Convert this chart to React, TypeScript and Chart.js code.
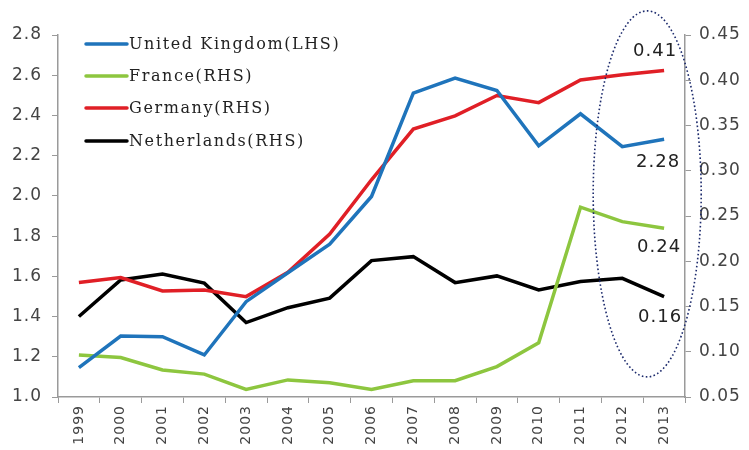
import React, { useEffect, useRef } from "react";
import { Chart, registerables } from "chart.js";

Chart.register(...registerables);

const years = ["1999","2000","2001","2002","2003","2004","2005","2006","2007","2008","2009","2010","2011","2012","2013"];
const ukLHS = [1.146, 1.303, 1.30, 1.209, 1.474, 1.618, 1.76, 1.997, 2.511, 2.586, 2.524, 2.249, 2.408, 2.245, 2.282];
const franceRHS = [0.0964, 0.0936, 0.0798, 0.0753, 0.0584, 0.0689, 0.0658, 0.0584, 0.068, 0.068, 0.0836, 0.110, 0.2598, 0.2438, 0.2364];
const germanyRHS = [0.1764, 0.182, 0.1671, 0.1682, 0.1609, 0.1878, 0.230, 0.290, 0.346, 0.3607, 0.3831, 0.3753, 0.4004, 0.406, 0.4107];
const netherlandsRHS = [0.1389, 0.1793, 0.186, 0.1758, 0.1322, 0.1487, 0.1593, 0.2007, 0.2051, 0.1764, 0.1838, 0.1682, 0.1776, 0.1811, 0.1609];
const seriesNames = ["United Kingdom(LHS)", "France(RHS)", "Germany(RHS)", "Netherlands(RHS)"];
const seriesColors = ["#1f74bb", "#8dc63f", "#e01f26", "#000000"];
const endLabels = ["2.28", "0.24", "0.41", "0.16"];

const TICK_COLOR = "#444444";
const AXIS_COLOR = "#9a9a9a";

const decorPlugin = {
  id: "decor",
  beforeUpdate(chart: any) {
    (chart.ctx as any).letterSpacing = "1px";
  },
  beforeDraw(chart: any) {
    (chart.ctx as any).letterSpacing = "1px";
  },
  afterDatasetsDraw(chart: any) {
    const ctx = chart.ctx;
    const xs = chart.scales.x;
    const yl = chart.scales.y;
    ctx.save();
    // legend
    (ctx as any).letterSpacing = "1.6px";
    ctx.font = "16px 'DejaVu Serif'";
    ctx.textBaseline = "middle";
    ctx.textAlign = "left";
    const legendY = [44, 76, 108, 141];
    seriesNames.forEach((name, i) => {
      ctx.strokeStyle = seriesColors[i];
      ctx.lineWidth = 3.5;
      ctx.lineCap = "round";
      ctx.beginPath();
      ctx.moveTo(86, legendY[i]);
      ctx.lineTo(127, legendY[i]);
      ctx.stroke();
      ctx.fillStyle = "#222";
      ctx.fillText(name, 129, legendY[i] + 1);
    });
    // end labels
    (ctx as any).letterSpacing = "1px";
    const last = years.length - 1;
    const metas = [0, 1, 2, 3].map((i) => chart.getDatasetMeta(i));
    const offsets = [23, 19, -19, 21];
    const dx = [-6, -5, -9, -4];
    ctx.font = "18px 'DejaVu Sans'";
    ctx.textAlign = "center";
    ctx.fillStyle = "#222";
    metas.forEach((m, i) => {
      const pt = m.data[last];
      ctx.fillText(endLabels[i], pt.x + dx[i], pt.y + offsets[i]);
    });
    // dotted ellipse
    const cx = (xs.getPixelForValue(13) + xs.getPixelForValue(14)) / 2 + 4;
    const top = yl.getPixelForValue(2.92);
    const bottom = yl.getPixelForValue(1.1);
    const cy = (top + bottom) / 2;
    const ry = (bottom - top) / 2;
    ctx.strokeStyle = "#1c2a6c";
    ctx.lineWidth = 1.6;
    ctx.lineCap = "butt";
    ctx.setLineDash([1.6, 2.4]);
    ctx.beginPath();
    ctx.ellipse(cx, cy, 54, ry, 0, 0, Math.PI * 2);
    ctx.stroke();
    ctx.restore();
  },
};

export default function App() {
  const ref = useRef<HTMLCanvasElement>(null);
  useEffect(() => {
    document.body.style.margin = "0";
    const mk = (label: string, data: number[], color: string, axis: string) => ({
      label,
      data,
      borderColor: color,
      backgroundColor: color,
      borderWidth: 3.5,
      pointRadius: 0,
      tension: 0,
      yAxisID: axis,
    });
    const chart = new Chart(ref.current!, {
      type: "line",
      data: {
        labels: years,
        datasets: [
          mk(seriesNames[0], ukLHS, seriesColors[0], "y"),
          mk(seriesNames[1], franceRHS, seriesColors[1], "y1"),
          mk(seriesNames[2], germanyRHS, seriesColors[2], "y1"),
          mk(seriesNames[3], netherlandsRHS, seriesColors[3], "y1"),
        ],
      },
      options: {
        responsive: false,
        animation: false,
        layout: { padding: { top: 35, left: 0, right: 0, bottom: 0 } },
        plugins: { legend: { display: false }, tooltip: { enabled: false } },
        scales: {
          x: {
            type: "category",
            offset: true,
            border: { color: AXIS_COLOR, width: 1.5 },
            grid: { display: true, drawOnChartArea: false, drawTicks: true, tickLength: 6, offset: true, color: AXIS_COLOR },
            ticks: { minRotation: 90, maxRotation: 90, color: TICK_COLOR, font: { family: "DejaVu Sans", size: 14 }, padding: 2 },
            afterFit: (s: any) => { s.height = 53; },
          },
          y: {
            position: "left",
            min: 1.0,
            max: 2.8,
            border: { color: AXIS_COLOR, width: 1.5 },
            grid: { display: true, drawOnChartArea: false, drawTicks: true, tickLength: 6, color: AXIS_COLOR },
            ticks: { stepSize: 0.2, color: TICK_COLOR, font: { family: "DejaVu Sans", size: 17 }, padding: 10, callback: (v: any) => Number(v).toFixed(1) },
            afterFit: (s: any) => { s.width = 58; },
          },
          y1: {
            position: "right",
            min: 0.05,
            max: 0.45,
            border: { color: AXIS_COLOR, width: 1.5 },
            grid: { display: true, drawOnChartArea: false, drawTicks: true, tickLength: 6, color: AXIS_COLOR },
            ticks: { stepSize: 0.05, color: TICK_COLOR, font: { family: "DejaVu Sans", size: 17 }, padding: 8, callback: (v: any) => Number(v).toFixed(2) },
            afterFit: (s: any) => { s.width = 64; },
          },
        },
      },
      plugins: [decorPlugin],
    });
    return () => chart.destroy();
  }, []);
  return (
    <canvas ref={ref} width={749} height={450} style={{ position: "absolute", left: 0, top: 0, background: "#fff" }} />
  );
}
